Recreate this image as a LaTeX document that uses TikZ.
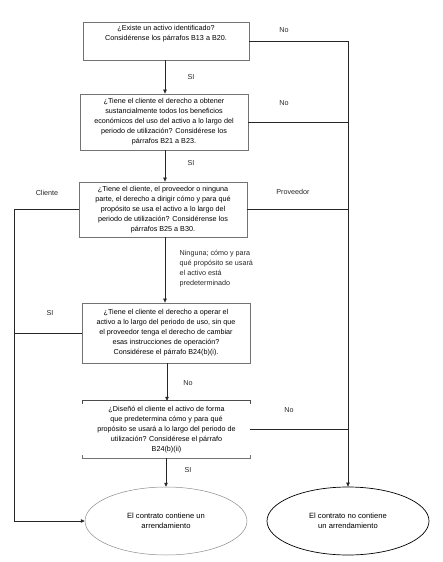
\documentclass[tikz,border=0pt]{standalone}
\usepackage{fontspec}
\setmainfont{Liberation Sans}
\usetikzlibrary{shapes.geometric,arrows.meta}
\begin{document}
\begin{tikzpicture}[x=1pt,y=-1pt,
  font=\fontsize{7.2}{10}\selectfont,
  qbox/.style={draw=black!55, line width=0.8pt, rectangle, align=center, inner sep=1pt},
  oval/.style={ellipse, align=center, minimum width=162pt, minimum height=68pt, inner sep=0pt, font=\fontsize{7.6}{10.2}\selectfont},
  conn/.style={draw=black!85, line width=0.6pt},
  arr/.style={conn, -{Triangle[length=4pt,width=3.5pt]}},
  lbl/.style={inner sep=0pt, text=black!85}]
\useasboundingbox (0,0) rectangle (442,562);
\node[qbox, minimum width=166pt, minimum height=38pt] (b1) at (166,41)
  {¿Existe un activo identificado?\\Considérense los párrafos B13 a B20.\\[6pt]};
\node[qbox, minimum width=168pt, minimum height=56pt] (b2) at (164,122)
  {¿Tiene el cliente el derecho a obtener\\sustancialmente todos los beneficios\\económicos del uso del activo a lo largo del\\periodo de utilización? Considérese los\\párrafos B21 a B23.};
\node[qbox, minimum width=168pt, minimum height=55pt] (b3) at (163,209.5)
  {¿Tiene el cliente, el proveedor o ninguna\\parte, el derecho a dirigir cómo y para qué\\propósito se usa el activo a lo largo del\\periodo de utilización? Considérense los\\párrafos B25 a B30.};
\node[qbox, minimum width=168pt, minimum height=60pt] (b4) at (166,333)
  {¿Tiene el cliente el derecho a operar el\\activo a lo largo del periodo de uso, sin que\\el proveedor tenga el derecho de cambiar\\esas instrucciones de operación?\\Considérese el párrafo B24(b)(i).};
\node[align=center, minimum width=167pt, minimum height=57pt, inner sep=1pt] (b5) at (166.5,429.5)
  {¿Diseñó el cliente el activo de forma\\que predetermina cómo y para qué\\propósito se usará a lo largo del periodo de\\utilización? Considérese el párrafo\\B24(b)(ii)};
\draw[draw=black!70, line width=0.8pt] ([yshift=-3pt]b5.north west) -- (b5.north west) -- (b5.north east) -- ([yshift=-3pt]b5.north east);
\draw[draw=black!55, line width=1pt] ([yshift=3pt]b5.south west) -- (b5.south west) -- (b5.south east) -- ([yshift=3pt]b5.south east);
\node[oval, draw=black!45, line width=0.5pt] (e1) at (166,521) {El contrato contiene un\\arrendamiento};
\node[oval, draw=black, line width=0.7pt] (e2) at (348,521) {El contrato no contiene\\un arrendamiento};
\coordinate (L) at (14,521);
% main vertical flow
\draw[arr] (b1.south -| 165,0) -- (b2.north -| 165,0);
\draw[arr] (b2.south -| 165,0) -- (b3.north -| 165,0);
\draw[arr] (b3.south -| 165,0) -- (b4.north -| 165,0);
\draw[arr] (b4.south -| 167,0) -- (b5.north -| 167,0);
\draw[arr] (b5.south -| 166,0) -- (e1.north);
% right branch
\draw[arr] (b1.east) -| (e2.north);
\draw[conn] (b2.east) -- (b2.east -| e2.north);
\draw[conn] (b3.east) -- (b3.east -| e2.north);
\draw[conn] (b5.east) -- (b5.east -| e2.north);
% left branch
\draw[arr] (b3.west) -| (L) -- (e1.west);
\draw[conn] (b4.west) -- (b4.west -| L);
% labels
\node[lbl] (l1) at (284,30) {No};
\node[lbl] (l2) at (191,77) {SI};
\node[lbl] (l3) at (284,103) {No};
\node[lbl] (l4) at (191,163) {SI};
\node[lbl] (l5) at (47,193) {Cliente};
\node[lbl] (l6) at (293,192) {Proveedor};
\node[lbl, align=left, anchor=north west] (l7) at (179.5,250) {Ninguna; cómo y para\\qué propósito se usará\\el activo está\\predeterminado};
\node[lbl] (l8) at (50,313) {SI};
\node[lbl] (l9) at (188,383) {No};
\node[lbl] (l10) at (289,410) {No};
\node[lbl] (l11) at (188,470) {SI};
\end{tikzpicture}
\end{document}
